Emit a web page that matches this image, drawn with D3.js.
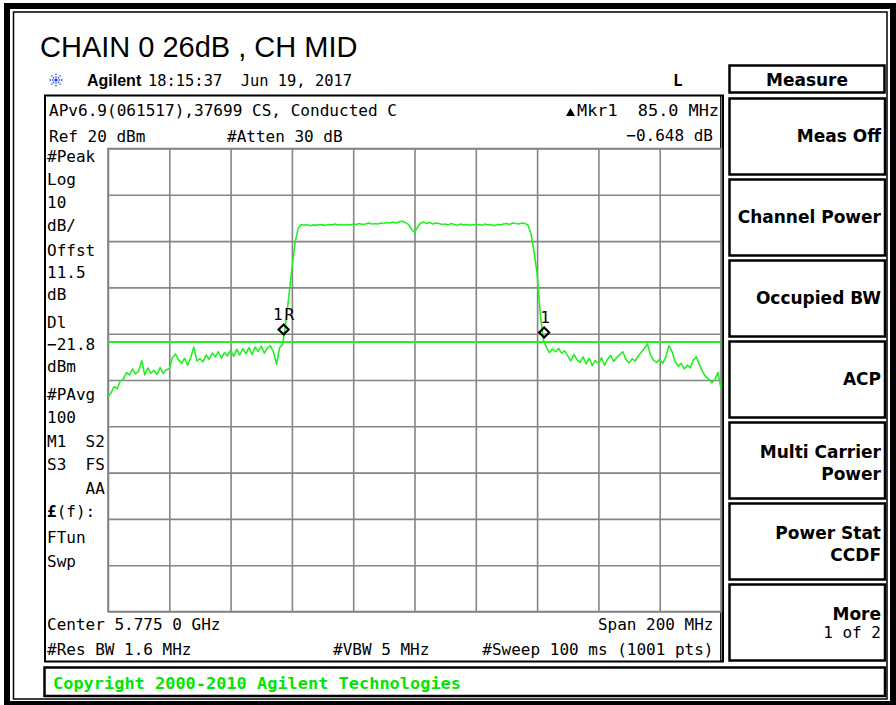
<!DOCTYPE html>
<html>
<head>
<meta charset="utf-8">
<script src="https://cdn.jsdelivr.net/npm/d3@7"></script>
<style>
  body { margin: 0; background: #fff; }
  svg { display: block; }
  text { white-space: pre; }
  .mono { font-family: "DejaVu Sans Mono", monospace; font-size: 16px; fill: #000; }
  .key { font-family: "DejaVu Sans", sans-serif; font-weight: bold; font-size: 17px; fill: #000; }
  .grid line { stroke: #858585; stroke-width: 1.6; }
  .grid .domain { display: none; }
</style>
</head>
<body>
<div id="container"></div>
<script>
var title = "CHAIN 0 26dB , CH MID";
var startFreq = 5675, stopFreq = 5875, stepMHz = 1;   // MHz, 200 MHz span
var refLevel = 20, dbPerDiv = 10, divisions = 10;
var displayLine = -21.8;

var traceDbm = [
  -33.6, -32.8, -31.4, -31.9, -30.2, -29.8, -28.4, -28.9, -27.6, -28.7,
  -28.1, -25.8, -28.9, -27.4, -28.5, -27.9, -28.8, -27.3, -28.6, -27.8,
  -27.6, -25.2, -24.4, -25.6, -26.4, -25.3, -26.8, -25.1, -22.9, -25.9,
  -25.4, -26.1, -24.6, -25.5, -24.2, -25.0, -23.9, -25.3, -24.1, -24.8,
  -23.6, -24.9, -23.4, -24.6, -23.2, -24.3, -23.0, -24.5, -22.9, -23.8,
  -22.7, -24.2, -23.1, -22.6, -24.0, -26.6, -23.0, -22.3, -17.5, -12.0,
  -6.0, -0.5, 2.7, 3.6, 3.4, 3.6, 3.3, 3.5, 3.4, 3.6,
  3.5, 3.4, 3.6, 3.5, 3.7, 3.5, 3.6, 3.4, 3.6, 3.5,
  3.7, 3.6, 3.8, 3.6, 3.7, 3.9, 3.7, 3.8, 3.7, 3.9,
  3.8, 4.0, 3.9, 4.1, 3.9, 4.2, 4.3, 4.0, 3.6, 2.6,
  1.9, 3.0, 3.9, 4.1, 3.8, 4.0, 3.7, 3.9, 3.8, 3.6,
  3.7, 3.5, 3.8, 3.6, 3.4, 3.7, 3.5, 3.6, 3.4, 3.6,
  3.5, 3.6, 3.4, 3.7, 3.5, 3.6, 3.3, 3.6, 3.5, 3.7,
  3.8, 3.6, 3.9, 3.8, 3.7, 3.9, 3.8, 3.5, 1.6, -2.3,
  -7.0, -15.5, -21.2, -22.9, -24.1, -23.3, -23.9, -23.2, -24.2, -23.7,
  -24.8, -25.9, -24.5, -25.6, -26.2, -25.0, -26.5, -25.3, -26.9, -25.8,
  -26.4, -25.2, -26.8, -25.5, -24.7, -26.0, -25.1, -24.5, -23.9, -25.6,
  -26.3, -25.4, -25.9, -24.8, -24.0, -23.2, -22.2, -24.6, -25.7, -26.2,
  -25.5, -26.4, -25.0, -22.6, -23.8, -26.0, -27.0, -26.4, -27.6, -26.8,
  -27.4, -25.6, -25.0, -26.8, -28.2, -29.3, -29.8, -30.6, -29.9, -28.4, -31.8
];

var markerNames = ["1R", "1"];
var markerFreqs = [5732.3, 5817.3];
var markerLevels = [-19.1, -19.75];

var leftLabels = ["#Peak", "Log", "10", "dB/", "Offst", "11.5", "dB", "Dl", "\u221221.8", "dBm",
                  "#PAvg", "100", "M1  S2", "S3  FS", "    AA", "(f):", "FTun", "Swp"];
var softkeys = [["Meas Off"], ["Channel Power"], ["Occupied BW"], ["ACP"],
                ["Multi Carrier", "Power"], ["Power Stat", "CCDF"], ["More", "1 of 2"]];

// ---- layout ----
var W = 896, H = 705;
var plot = {left: 108, top: 148.5, width: 613, height: 463};
var green = "#22f022";

var svg = d3.select("#container").append("svg")
    .attr("width", W)
    .attr("height", H);

// scales
var x = d3.scaleLinear()
    .domain([startFreq, stopFreq])
    .range([plot.left, plot.left + plot.width]);
var y = d3.scaleLinear()
    .domain([refLevel - divisions * dbPerDiv, refLevel])
    .range([plot.top + plot.height, plot.top]);

function txt(px, py, s, cls, anchor, len) {
  var t = svg.append("text")
      .attr("class", cls || "mono")
      .attr("x", px)
      .attr("y", py)
      .attr("text-anchor", anchor || "start")
      .text(s);
  if (len) t.attr("textLength", len).attr("lengthAdjust", "spacingAndGlyphs");
  return t;
}

// outer frame (thick + thin)
svg.append("rect").attr("x", 7).attr("y", 6).attr("width", 886).attr("height", 698)
    .attr("fill", "none").attr("stroke", "#000").attr("stroke-width", 6);
svg.append("rect").attr("x", 13.5).attr("y", 12).attr("width", 873.5).attr("height", 687)
    .attr("fill", "none").attr("stroke", "#000").attr("stroke-width", 1.5);

// title
svg.append("text")
    .attr("x", 40).attr("y", 57)
    .attr("font-family", "'Liberation Sans', Arial, sans-serif")
    .attr("font-size", 29)
    .text(title);

// agilent logo
var logo = svg.append("g").attr("transform", "translate(56,80)");
d3.range(8).forEach(function(k) {
  var a = k * Math.PI / 4;
  logo.append("line")
      .attr("x1", 0).attr("y1", 0)
      .attr("x2", 7 * Math.cos(a)).attr("y2", 7 * Math.sin(a))
      .attr("stroke", "#2e4bff").attr("stroke-width", 1.3)
      .attr("stroke-dasharray", "1.5,1");
});
svg.append("text").attr("x", 87).attr("y", 86)
    .attr("font-family", "'Liberation Sans', Arial, sans-serif")
    .attr("font-weight", "bold").attr("font-size", 16)
    .text("Agilent");
txt(148, 86, "18:15:37  Jun 19, 2017", "mono", "start", 204).attr("font-size", 17);
txt(673, 86, "L", "mono").attr("font-weight", "bold").attr("font-size", 17);

// measurement panel
svg.append("rect").attr("x", 45).attr("y", 95.5).attr("width", 678).attr("height", 566)
    .attr("fill", "none").attr("stroke", "#000").attr("stroke-width", 2);
svg.append("line").attr("x1", 720.8).attr("x2", 720.8).attr("y1", 95.5).attr("y2", 661.5)
    .attr("stroke", "#000").attr("stroke-width", 1.4);

txt(49, 116, "APv6.9(061517),37699 CS, Conducted C", "mono", "start", 348);
txt(49, 142, "Ref 20 dBm");
txt(227, 142, "#Atten 30 dB");
svg.append("path").attr("d", "M566,116 L570.5,108 L575,116 Z").attr("fill", "#000");
txt(577, 116, "Mkr1  85.0 MHz", "mono", "start", 142);
txt(713, 141, "\u22120.648 dB", "mono", "end");

// left column annotations
var leftY = [162, 185, 208, 231, 256, 278, 300, 328, 350, 372, 400, 423, 447, 470, 494, 517, 543, 567];
leftLabels.forEach(function(s, i) {
  var t = txt(47, leftY[i], s);
  if (s === "(f):") t.text("").call(function(sel) {
    sel.append("tspan").attr("font-weight", "bold").text("\u00a3");
    sel.append("tspan").text(s);
  });
});

// grid
svg.append("rect")
    .attr("x", plot.left).attr("y", plot.top)
    .attr("width", plot.width).attr("height", plot.height)
    .attr("fill", "#fff").attr("stroke", "#858585").attr("stroke-width", 1.6);

svg.append("g")
    .attr("class", "grid")
    .attr("transform", "translate(0," + (plot.top + plot.height) + ")")
    .call(d3.axisBottom(x)
        .tickValues(d3.range(divisions + 1).map(function(i) { return startFreq + i * (stopFreq - startFreq) / divisions; }))
        .tickSize(-plot.height)
        .tickFormat(""));

svg.append("g")
    .attr("class", "grid")
    .attr("transform", "translate(" + plot.left + ",0)")
    .call(d3.axisLeft(y)
        .tickValues(d3.range(divisions + 1).map(function(i) { return refLevel - i * dbPerDiv; }))
        .tickSize(-plot.width)
        .tickFormat(""));

// display line
svg.append("line")
    .attr("x1", x(startFreq)).attr("x2", x(stopFreq))
    .attr("y1", y(displayLine)).attr("y2", y(displayLine))
    .attr("stroke", green).attr("stroke-width", 2);

// trace
var line = d3.line()
    .x(function(d, i) { return x(startFreq + i * stepMHz); })
    .y(function(d) { return y(d); });

svg.append("path")
    .datum(traceDbm)
    .attr("d", line)
    .attr("fill", "none")
    .attr("stroke", green)
    .attr("stroke-width", 1.6)
    .attr("stroke-linejoin", "round");

// markers
markerNames.forEach(function(name, i) {
  var mx = x(markerFreqs[i]), my = y(markerLevels[i]);
  svg.append("path")
      .attr("d", "M" + (mx - 5) + "," + my + " L" + mx + "," + (my - 5) + " L" + (mx + 5) + "," + my + " L" + mx + "," + (my + 5) + " Z")
      .attr("fill", "none").attr("stroke", "#000").attr("stroke-width", 2.2);
  txt(mx + 1, my - 10, name, "mono", "middle").attr("font-size", 12).attr("letter-spacing", name.length > 1 ? 2 : 0);
});

// bottom annotations
txt(47, 630, "Center 5.775 0 GHz");
txt(713.5, 630, "Span 200 MHz", "mono", "end");
txt(47, 655, "#Res BW 1.6 MHz");
txt(333, 655, "#VBW 5 MHz");
txt(713.5, 655, "#Sweep 100 ms (1001 pts)", "mono", "end");

// copyright bar
svg.append("rect").attr("x", 44.5).attr("y", 667.5).attr("width", 840.5).attr("height", 28.5)
    .attr("fill", "none").attr("stroke", "#000").attr("stroke-width", 2.5);
txt(53, 689, "Copyright 2000-2010 Agilent Technologies", "mono", "start", 408)
    .attr("font-weight", "bold").attr("font-size", 17).style("fill", "#00e600");

// softkey menu
svg.append("rect").attr("x", 729.5).attr("y", 65.5).attr("width", 155).attr("height", 27)
    .attr("fill", "none").attr("stroke", "#000").attr("stroke-width", 2.5);
txt(807, 86, "Measure", "key", "middle");

softkeys.forEach(function(lines, k) {
  var top = 98.5 + k * 81;
  svg.append("rect").attr("x", 729.5).attr("y", top).attr("width", 155.5).attr("height", 76)
      .attr("fill", "none").attr("stroke", "#000").attr("stroke-width", 2.5);
  if (lines.length === 1) {
    txt(881, top + 43, lines[0], "key", "end");
  } else {
    txt(881, top + 35, lines[0], "key", "end");
    if (lines[1] === "1 of 2") txt(881, top + 53, lines[1], "mono", "end");
    else txt(881, top + 57, lines[1], "key", "end");
  }
});
</script>
</body>
</html>
